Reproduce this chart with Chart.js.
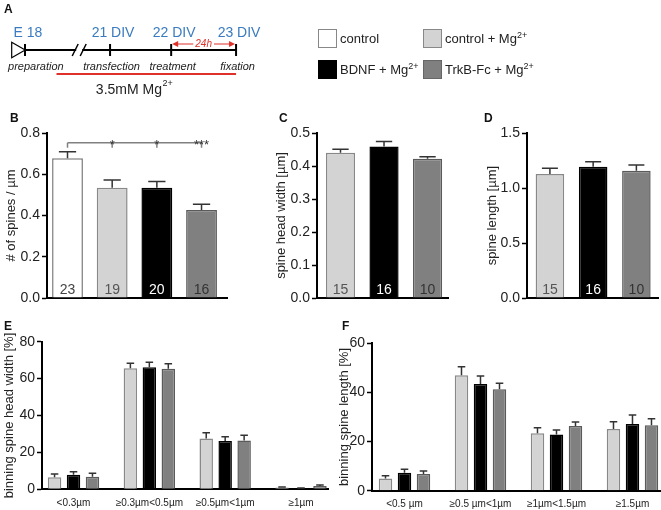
<!DOCTYPE html>
<html>
<head>
<meta charset="utf-8">
<script src="https://cdn.jsdelivr.net/npm/chart.js@4.4.0/dist/chart.umd.min.js"></script>
<style>
  body { margin: 0; background: #fff; font-family: "Liberation Sans", Arial, sans-serif; }
  #wrap { position: relative; width: 661px; height: 510px; overflow: hidden; }
  canvas { position: absolute; }
  .panel { position: absolute; font-weight: bold; font-size: 12px; color: #111; }
  .box { position: absolute; width: 17px; height: 17px; border: 1px solid #777; }
  .key { position: absolute; font-size: 13px; color: #222; line-height: 16px; }
  .key sup { font-size: 9px; vertical-align: 5px; line-height: 0; }
</style>
</head>
<body>
<div id="wrap">
  <canvas id="timeline" width="300" height="100" style="left:0;top:0"></canvas>
  <canvas id="chartB" width="235" height="210" style="left:0;top:100px"></canvas>
  <canvas id="chartC" width="205" height="210" style="left:250px;top:100px"></canvas>
  <canvas id="chartD" width="206" height="210" style="left:455px;top:100px"></canvas>
  <canvas id="chartE" width="335" height="200" style="left:0;top:310px"></canvas>
  <canvas id="chartF" width="326" height="200" style="left:335px;top:310px"></canvas>

  <div class="panel" style="left:4px;top:2px">A</div>
  <div class="panel" style="left:10px;top:111px">B</div>
  <div class="panel" style="left:279px;top:111px">C</div>
  <div class="panel" style="left:484px;top:111px">D</div>
  <div class="panel" style="left:4px;top:319px">E</div>
  <div class="panel" style="left:342px;top:319px">F</div>

  <div class="box" style="left:318px;top:29px;background:#fff;border-color:#888"></div>
  <div class="key" style="left:340px;top:31px">control</div>
  <div class="box" style="left:423px;top:29px;background:#d3d3d3;border-color:#888"></div>
  <div class="key" style="left:445px;top:31px">control + Mg<sup>2+</sup></div>
  <div class="box" style="left:318px;top:60px;background:#000;border-color:#000"></div>
  <div class="key" style="left:340px;top:62px">BDNF + Mg<sup>2+</sup></div>
  <div class="box" style="left:423px;top:60px;background:#808080;border-color:#666"></div>
  <div class="key" style="left:445px;top:62px">TrkB-Fc + Mg<sup>2+</sup></div>
</div>

<script>
// ---- data ----
// timeline (panel A)
const stages = ['E 18', '21 DIV', '22 DIV', '23 DIV'];
const stageAt = [0, 1.35, 2.32, 3.35];
const steps = ['preparation', 'transfection', 'treatment', 'fixation'];
const mgFrom = 0.5;
const breakAt = 0.86;

// groups
const groupFill = ['#ffffff', '#d3d3d3', '#000000', '#808080'];
const groupEdge = ['#7a7a7a', '#888888', '#000000', '#5a5a5a'];
const countColor = ['#444444', '#555555', '#ffffff', '#333333'];

// B: spine density
const density = [0.677, 0.535, 0.535, 0.427];
const densityErr = [0.032, 0.037, 0.030, 0.027];
const densityN = [23, 19, 20, 16];
const densityStars = ['', '*', '*', '***'];
const densityTicks = [0, 0.2, 0.4, 0.6, 0.8];

// C: spine head width
const headWidth = [0.440, 0.459, 0.422];
const headWidthErr = [0.011, 0.015, 0.006];
const headWidthN = [15, 16, 10];
const headWidthTicks = [0, 0.1, 0.2, 0.3, 0.4, 0.5];

// D: spine length
const spineLength = [1.127, 1.194, 1.157];
const spineLengthErr = [0.052, 0.045, 0.052];
const spineLengthN = [15, 16, 10];
const spineLengthTicks = [0, 0.5, 1.0, 1.5];

// E: binning spine head width
const widthBins = ['<0.3µm', '≥0.3µm<0.5µm', '≥0.5µm<1µm', '≥1µm'];
const widthCtrlMg = [6.5, 65.6, 27.6, 1.0];
const widthCtrlMgErr = [1.8, 2.7, 3.1, 0.3];
const widthBdnf = [7.9, 66.1, 26.2, 0.5];
const widthBdnfErr = [1.6, 2.7, 2.3, 0.2];
const widthTrkb = [6.8, 65.4, 26.4, 1.8];
const widthTrkbErr = [1.9, 2.7, 2.9, 0.5];
const widthBinTicks = [0, 20, 40, 60, 80];

// F: binning spine length
const lengthBins = ['<0.5 µm', '≥0.5 µm<1µm', '≥1µm<1.5µm', '≥1.5µm'];
const lengthCtrlMg = [5.0, 47.0, 23.4, 25.1];
const lengthCtrlMgErr = [1.1, 3.5, 2.2, 3.0];
const lengthBdnf = [7.3, 43.4, 22.9, 27.1];
const lengthBdnfErr = [1.4, 3.3, 1.8, 3.7];
const lengthTrkb = [6.8, 41.3, 26.3, 26.6];
const lengthTrkbErr = [1.2, 2.4, 1.7, 2.7];
const lengthBinTicks = [0, 20, 40, 60];

Chart.defaults.font.family = '"Liberation Sans", Arial, sans-serif';
Chart.defaults.animation = false;

const FONT = '"Liberation Sans", Arial, sans-serif';

// error bars (upper half only)
const errorBars = {
  id: 'errorBars',
  afterDatasetsDraw(chart) {
    const ctx = chart.ctx, y = chart.scales.y;
    chart.data.datasets.forEach((ds, i) => {
      if (!ds.errors) return;
      chart.getDatasetMeta(i).data.forEach((bar, j) => {
        const top = y.getPixelForValue(ds.data[j].y + ds.errors[j]);
        const half = Math.max(bar.width * 0.28, 3.5);
        ctx.save();
        ctx.strokeStyle = '#333';
        ctx.lineWidth = 1.5;
        ctx.beginPath();
        ctx.moveTo(bar.x, bar.y);
        ctx.lineTo(bar.x, top);
        ctx.moveTo(bar.x - half, top);
        ctx.lineTo(bar.x + half, top);
        ctx.stroke();
        ctx.restore();
      });
    });
  }
};

// n numbers at the bottom of bars
const barCounts = {
  id: 'barCounts',
  afterDatasetsDraw(chart) {
    const ctx = chart.ctx;
    chart.data.datasets.forEach((ds, i) => {
      if (!ds.counts) return;
      chart.getDatasetMeta(i).data.forEach((bar, j) => {
        ctx.save();
        ctx.font = '14px ' + FONT;
        ctx.fillStyle = ds.countColors[j];
        ctx.textAlign = 'center';
        ctx.textBaseline = 'alphabetic';
        ctx.fillText(ds.counts[j], bar.x, bar.base - 4);
        ctx.restore();
      });
    });
  }
};

// significance bracket for B
const sigBracket = {
  id: 'sigBracket',
  afterDatasetsDraw(chart) {
    const ctx = chart.ctx, x = chart.scales.x, y = chart.scales.y;
    const level = y.getPixelForValue(0.753);
    const drop = y.getPixelForValue(0.729);
    ctx.save();
    ctx.strokeStyle = '#808080';
    ctx.lineWidth = 1.5;
    ctx.beginPath();
    ctx.moveTo(x.getPixelForValue(0), level);
    ctx.lineTo(x.getPixelForValue(densityStars.length - 1), level);
    densityStars.forEach((s, i) => {
      ctx.moveTo(x.getPixelForValue(i), level);
      ctx.lineTo(x.getPixelForValue(i), drop);
    });
    ctx.stroke();
    ctx.fillStyle = '#333';
    ctx.font = '13px ' + FONT;
    ctx.textAlign = 'center';
    densityStars.forEach((s, i) => {
      if (s) ctx.fillText(s, x.getPixelForValue(i), level + 6);
    });
    ctx.restore();
  }
};

function barChart(id, cfg) {
  return new Chart(document.getElementById(id), {
    type: 'bar',
    data: { datasets: cfg.datasets },
    options: {
      responsive: false,
      devicePixelRatio: 1,
      layout: { padding: { top: cfg.padTop, right: cfg.padRight, bottom: 0, left: 0 } },
      plugins: { legend: { display: false }, tooltip: { enabled: false } },
      datasets: { bar: { categoryPercentage: cfg.catPct, barPercentage: cfg.barPct, borderWidth: 1.5 } },
      scales: {
        x: {
          type: 'linear',
          min: cfg.xMin, max: cfg.xMax,
          offset: false,
          afterBuildTicks: s => { s.ticks = cfg.xLabels.map((l, i) => ({ value: i })); },
          afterFit: s => { s.height = cfg.xHeight; },
          grid: { display: false, drawTicks: false, offset: false },
          border: { color: '#000', width: 2 },
          ticks: {
            display: cfg.showX, autoSkip: false, maxRotation: 0, padding: 8,
            font: { size: 10 }, color: '#222',
            callback: v => cfg.xLabels[v]
          }
        },
        y: {
          min: 0, max: cfg.yTicks[cfg.yTicks.length - 1],
          afterBuildTicks: s => { s.ticks = cfg.yTicks.map(v => ({ value: v })); },
          afterFit: s => { s.width = cfg.yWidth; },
          grid: { drawOnChartArea: false, tickLength: 5, tickWidth: 1.5, color: '#000' },
          border: { color: '#000', width: 2 },
          ticks: { padding: 2, font: { size: 14 }, color: '#222', callback: cfg.yFmt },
          title: {
            display: true, text: cfg.yTitle, color: '#222', font: { size: 13 },
            padding: { top: cfg.titleGap, bottom: 0 }
          }
        }
      }
    },
    plugins: [errorBars, barCounts].concat(cfg.plugins || [])
  });
}

const pts = arr => arr.map((v, i) => ({ x: i, y: v }));

// B
barChart('chartB', {
  datasets: [{
    data: pts(density), errors: densityErr, counts: densityN, countColors: countColor,
    backgroundColor: groupFill, borderColor: groupEdge
  }],
  xLabels: density.map(() => ''), showX: false,
  xMin: -0.459, xMax: 3.57, xHeight: 12,
  catPct: 1, barPct: 0.69,
  yTicks: densityTicks, yFmt: v => v.toFixed(1), yTitle: '# of spines / µm',
  yWidth: 47, titleGap: 4, padTop: 33, padRight: 8,
  plugins: [sigBracket]
});

// C
barChart('chartC', {
  datasets: [{
    data: pts(headWidth), errors: headWidthErr, counts: headWidthN, countColors: countColor.slice(1),
    backgroundColor: groupFill.slice(1), borderColor: groupEdge.slice(1)
  }],
  xLabels: headWidth.map(() => ''), showX: false,
  xMin: -0.54, xMax: 2.47, xHeight: 12,
  catPct: 1, barPct: 0.67,
  yTicks: headWidthTicks, yFmt: v => v.toFixed(1), yTitle: 'spine head width [µm]',
  yWidth: 67, titleGap: 24, padTop: 33, padRight: 7
});

// D
barChart('chartD', {
  datasets: [{
    data: pts(spineLength), errors: spineLengthErr, counts: spineLengthN, countColors: countColor.slice(1),
    backgroundColor: groupFill.slice(1), borderColor: groupEdge.slice(1)
  }],
  xLabels: spineLength.map(() => ''), showX: false,
  xMin: -0.53, xMax: 2.5, xHeight: 12,
  catPct: 1, barPct: 0.66,
  yTicks: spineLengthTicks, yFmt: v => v.toFixed(1), yTitle: 'spine length [µm]',
  yWidth: 72, titleGap: 30, padTop: 33, padRight: 3
});

function grouped(series, errs) {
  return series.map((s, k) => ({
    data: pts(s), errors: errs[k],
    backgroundColor: groupFill[k + 1], borderColor: groupEdge[k + 1]
  }));
}

// E
barChart('chartE', {
  datasets: grouped([widthCtrlMg, widthBdnf, widthTrkb], [widthCtrlMgErr, widthBdnfErr, widthTrkbErr]),
  xLabels: widthBins, showX: true,
  xMin: -0.4156, xMax: 3.356, xHeight: 20.7,
  catPct: 0.75, barPct: 0.71,
  yTicks: widthBinTicks, yFmt: v => v, yTitle: 'binning spine head width [%]',
  yWidth: 42, titleGap: 2, padTop: 31.7, padRight: 7
});

// F
barChart('chartF', {
  datasets: grouped([lengthCtrlMg, lengthBdnf, lengthTrkb], [lengthCtrlMgErr, lengthBdnfErr, lengthTrkbErr]),
  xLabels: lengthBins, showX: true,
  xMin: -0.4276, xMax: 3.362, xHeight: 19.3,
  catPct: 0.75, barPct: 0.71,
  yTicks: lengthBinTicks, yFmt: v => v, yTitle: 'binning spine length [%]',
  yWidth: 37, titleGap: 2, padTop: 33.3, padRight: 1
});

// ---- panel A timeline ----
const timelineText = {
  id: 'timelineText',
  afterDatasetsDraw(chart) {
    const ctx = chart.ctx, x = chart.scales.x, y = chart.scales.y;
    const px = v => x.getPixelForValue(v);
    ctx.save();
    // axis break
    const bx = px(breakAt), by = y.getPixelForValue(50);
    ctx.fillStyle = '#fff';
    ctx.fillRect(bx - 3, by - 2, 6, 4);
    ctx.strokeStyle = '#000';
    ctx.lineWidth = 1.5;
    ctx.beginPath();
    ctx.moveTo(bx - 7, by + 6); ctx.lineTo(bx - 1, by - 6);
    ctx.moveTo(bx + 1, by + 6); ctx.lineTo(bx + 7, by - 6);
    ctx.stroke();

    // stage labels
    ctx.fillStyle = '#3a7bbf';
    ctx.font = '14px ' + FONT;
    ctx.textAlign = 'center';
    ctx.textBaseline = 'middle';
    stages.forEach((s, i) => ctx.fillText(s, px(stageAt[i]) + 3, y.getPixelForValue(33)));

    // step labels
    ctx.fillStyle = '#222';
    ctx.font = 'italic 11px ' + FONT;
    steps.forEach((s, i) => {
      if (i === 0) { ctx.textAlign = 'left'; ctx.fillText(s, px(stageAt[0]) - 17, y.getPixelForValue(67)); }
      else { ctx.textAlign = 'center'; ctx.fillText(s, px(stageAt[i]) + 1.5, y.getPixelForValue(67)); }
    });

    // 24h arrow
    const ay = y.getPixelForValue(44);
    const a0 = px(stageAt[2]) + 1, a1 = px(stageAt[3]) - 1, am = (a0 + a1) / 2;
    ctx.font = 'italic 10px ' + FONT;
    const tw = ctx.measureText('24h').width;
    ctx.strokeStyle = '#e0302a';
    ctx.fillStyle = '#e0302a';
    ctx.lineWidth = 1.2;
    ctx.beginPath();
    ctx.moveTo(a0 + 4, ay); ctx.lineTo(am - tw / 2 - 2, ay);
    ctx.moveTo(am + tw / 2 + 2, ay); ctx.lineTo(a1 - 4, ay);
    ctx.stroke();
    ctx.beginPath();
    ctx.moveTo(a0, ay); ctx.lineTo(a0 + 6, ay - 3); ctx.lineTo(a0 + 6, ay + 3); ctx.closePath();
    ctx.moveTo(a1, ay); ctx.lineTo(a1 - 6, ay - 3); ctx.lineTo(a1 - 6, ay + 3); ctx.closePath();
    ctx.fill();
    ctx.textAlign = 'center';
    ctx.fillText('24h', am, ay);

    // Mg label
    ctx.fillStyle = '#222';
    ctx.font = '14px ' + FONT;
    const main = '3.5mM Mg', w1 = ctx.measureText(main).width;
    ctx.font = '9px ' + FONT;
    const w2 = ctx.measureText('2+').width;
    const cx = px(stageAt[1]) + 24, ty = y.getPixelForValue(90);
    ctx.textAlign = 'left';
    ctx.font = '14px ' + FONT;
    ctx.fillText(main, cx - (w1 + w2) / 2, ty);
    ctx.font = '9px ' + FONT;
    ctx.fillText('2+', cx - (w1 + w2) / 2 + w1 + 0.5, ty - 6);
    ctx.restore();
  }
};

new Chart(document.getElementById('timeline'), {
  type: 'scatter',
  data: {
    datasets: [
      {
        data: stageAt.map(v => ({ x: v, y: 50 })), showLine: true,
        borderColor: '#000', borderWidth: 2,
        pointStyle: 'line', pointRotation: 90, pointRadius: 6,
        pointBorderColor: '#000', pointBorderWidth: 2
      },
      {
        data: [{ x: stageAt[0] - 0.14, y: 50 }],
        pointStyle: 'triangle', pointRotation: 90, pointRadius: 9,
        pointBackgroundColor: '#fff', pointBorderColor: '#000', pointBorderWidth: 1.2
      },
      {
        data: [{ x: mgFrom, y: 74 }, { x: stageAt[3], y: 74 }], showLine: true,
        borderColor: '#e0302a', borderWidth: 2, pointRadius: 0
      }
    ]
  },
  options: {
    responsive: false,
    devicePixelRatio: 1,
    layout: { padding: 0, autoPadding: false },
    plugins: { legend: { display: false }, tooltip: { enabled: false } },
    scales: {
      x: { type: 'linear', display: false, min: -0.397, max: 4.365 },
      y: { type: 'linear', display: false, min: 0, max: 100, reverse: true }
    }
  },
  plugins: [timelineText]
});
</script>
</body>
</html>
